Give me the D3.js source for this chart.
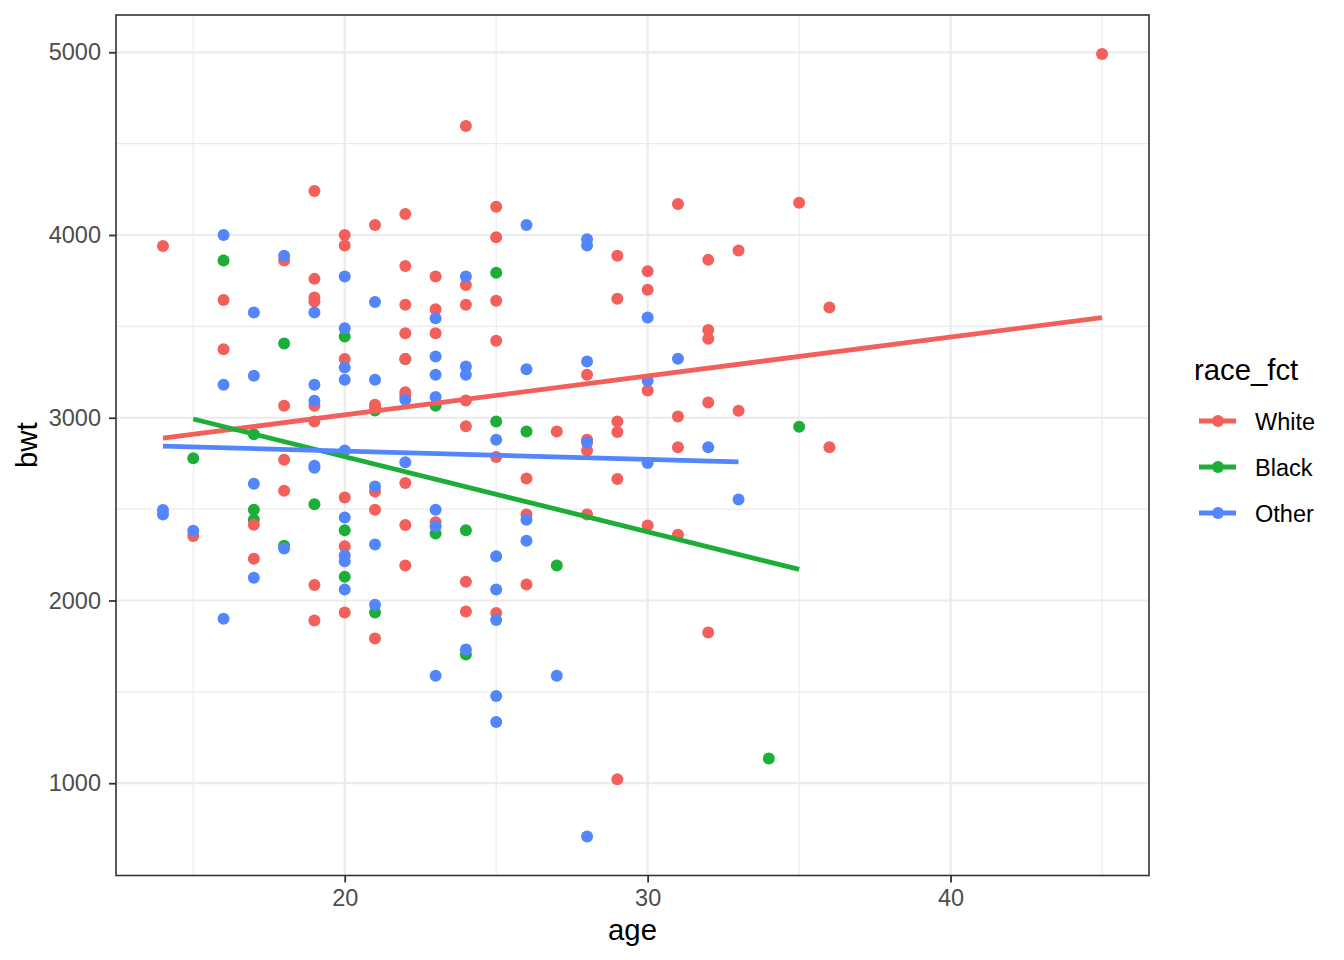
<!DOCTYPE html>
<html>
<head>
<meta charset="utf-8">
<script src="https://cdn.jsdelivr.net/npm/d3@7"></script>
<style>
  body { margin: 0; background: #fff; }
  svg { font-family: "Liberation Sans", Arial, sans-serif; }
</style>
</head>
<body>
<div id="chart"></div>
<script>
// birth weight vs mother's age: [age, bwt]
const white = [
  [14,3940],[15,2353],[16,3645],[16,3375],[17,2415],[17,2229],
  [18,3860],[18,3066],[18,2770],[18,2600],
  [19,4241],[19,3760],[19,3658],[19,3636],[19,3066],[19,2980],[19,2085],[19,1890],
  [20,4000],[20,3942],[20,3321],[20,2563],[20,2297],[20,1934],
  [21,4055],[21,3071],[21,3055],[21,2597],[21,2497],[21,1792],
  [22,4115],[22,3831],[22,3618],[22,3463],[22,3321],[22,3139],[22,3120],[22,2643],[22,2413],[22,2191],
  [23,3773],[23,3594],[23,3463],[23,2428],
  [24,4597],[24,3727],[24,3618],[24,3095],[24,2953],[24,2103],[24,1940],
  [25,4155],[25,3988],[25,3640],[25,3421],[25,2785],[25,1932],
  [26,2667],[26,2470],[26,2087],[27,2925],
  [28,3235],[28,2880],[28,2821],[28,2470],
  [29,3887],[29,3651],[29,2980],[29,2922],[29,2665],[29,1021],
  [30,3802],[30,3701],[30,3149],[30,2411],
  [31,4170],[31,3007],[31,2838],[31,2360],
  [32,3864],[32,3480],[32,3432],[32,3084],[32,1825],
  [33,3915],[33,3038],[35,4177],[36,3603],[36,2838],[45,4990]
];
const black = [
  [15,2778],[16,3860],[17,2910],[17,2497],[17,2442],[18,3406],[18,2300],
  [19,2526],[20,3445],[20,2384],[20,2130],[21,3040],[21,1934],[22,3321],
  [23,3066],[23,2366],[24,2384],[24,1704],[25,3793],[25,2980],[26,2925],
  [27,2191],[34,1135],[35,2951]
];
const other = [
  [14,2495],[14,2470],[15,2381],[16,4000],[16,3180],[16,1900],
  [17,3576],[17,3230],[17,2639],[17,2125],[18,3886],[18,2284],
  [19,3576],[19,3180],[19,3093],[19,2737],[19,2727],
  [20,3773],[20,3490],[20,3275],[20,3208],[20,2821],[20,2454],[20,2246],[20,2215],[20,2060],
  [21,3633],[21,3208],[21,2624],[21,2306],[21,1976],
  [22,3098],[22,2756],
  [23,3545],[23,3335],[23,3235],[23,3113],[23,2497],[23,2406],[23,1588],
  [24,3773],[24,3280],[24,3235],[24,1732],
  [25,2880],[25,2242],[25,2060],[25,1893],[25,1477],[25,1335],
  [26,4055],[26,3266],[26,2442],[26,2327],[27,1588],
  [28,3977],[28,3942],[28,3308],[28,2865],[28,709],
  [30,3548],[30,3202],[30,2752],[31,3323],[32,2838],[33,2553]
];

// lm fit lines as seen in the plot: [age, bwt] at both ends
const fitWhite = [[14,2888],[45,3548]];
const fitBlack = [[15,2993],[35,2170]];
const fitOther = [[14,2845],[33,2758]];

const races = ["White", "Black", "Other"];
const colors = ["#F35F5B", "#1DAE37", "#5385FF"];
const xTicks = [20, 30, 40];
const xMinor = [15, 25, 35, 45];
const yTicks = [1000, 2000, 3000, 4000, 5000];
const yMinor = [1500, 2500, 3500, 4500];

const width = 1344, height = 960;
const panel = { left: 116, right: 1149, top: 15, bottom: 875.5 };

const svg = d3.select("#chart").append("svg")
  .attr("width", width).attr("height", height);

const x = d3.scaleLinear().domain([12.45, 46.55]).range([panel.left, panel.right]);
const y = d3.scaleLinear().domain([494.95, 5204.05]).range([panel.bottom, panel.top]);

// grid
const grid = svg.append("g");
grid.selectAll(".ymin").data(yMinor).join("line")
  .attr("x1", panel.left).attr("x2", panel.right)
  .attr("y1", d => y(d)).attr("y2", d => y(d))
  .attr("stroke", "#EBEBEB").attr("stroke-width", 1.1);
grid.selectAll(".xmin").data(xMinor).join("line")
  .attr("y1", panel.top).attr("y2", panel.bottom)
  .attr("x1", d => x(d)).attr("x2", d => x(d))
  .attr("stroke", "#EBEBEB").attr("stroke-width", 1.1);
grid.selectAll(".ymaj").data(yTicks).join("line")
  .attr("x1", panel.left).attr("x2", panel.right)
  .attr("y1", d => y(d)).attr("y2", d => y(d))
  .attr("stroke", "#EBEBEB").attr("stroke-width", 2.2);
grid.selectAll(".xmaj").data(xTicks).join("line")
  .attr("y1", panel.top).attr("y2", panel.bottom)
  .attr("x1", d => x(d)).attr("x2", d => x(d))
  .attr("stroke", "#EBEBEB").attr("stroke-width", 2.2);

// points, black first so white/other sit on top
const groups = [[black, colors[1]], [white, colors[0]], [other, colors[2]]];
groups.forEach(([pts, col]) => {
  svg.append("g").selectAll("circle").data(pts).join("circle")
    .attr("cx", d => x(d[0])).attr("cy", d => y(d[1]))
    .attr("r", 6).attr("fill", col);
});

// fit lines
const line = d3.line().x(d => x(d[0])).y(d => y(d[1]));
[fitWhite, fitBlack, fitOther].forEach((f, i) => {
  svg.append("path").attr("d", line(f))
    .attr("fill", "none").attr("stroke", colors[i]).attr("stroke-width", 4.8);
});

// panel border
svg.append("rect")
  .attr("x", panel.left).attr("y", panel.top)
  .attr("width", panel.right - panel.left).attr("height", panel.bottom - panel.top)
  .attr("fill", "none").attr("stroke", "#333333").attr("stroke-width", 1.6);

// axes
const xAxis = svg.append("g").attr("transform", `translate(0,${panel.bottom})`)
  .call(d3.axisBottom(x).tickValues(xTicks).tickSize(7).tickPadding(7));
const yAxis = svg.append("g").attr("transform", `translate(${panel.left},0)`)
  .call(d3.axisLeft(y).tickValues(yTicks).tickSize(7).tickPadding(8).tickFormat(d3.format("d")));
[xAxis, yAxis].forEach(a => {
  a.select(".domain").remove();
  a.selectAll(".tick line").attr("stroke", "#333333").attr("stroke-width", 1.8);
  a.selectAll(".tick text").attr("fill", "#4D4D4D").attr("font-size", 23.5)
    .attr("font-family", "Liberation Sans, Arial, sans-serif");
});

svg.append("text").attr("x", (panel.left + panel.right) / 2).attr("y", 940)
  .attr("text-anchor", "middle").attr("font-size", 29.3).text("age");
svg.append("text").attr("transform", `translate(37,${(panel.top + panel.bottom) / 2}) rotate(-90)`)
  .attr("text-anchor", "middle").attr("font-size", 29.3).text("bwt");

// legend
const legend = svg.append("g");
legend.append("text").attr("x", 1194).attr("y", 380).attr("font-size", 29.3).text("race_fct");
races.forEach((r, i) => {
  const cy = 421 + i * 46;
  legend.append("line").attr("x1", 1199).attr("x2", 1236).attr("y1", cy).attr("y2", cy)
    .attr("stroke", colors[i]).attr("stroke-width", 4.8);
  legend.append("circle").attr("cx", 1218).attr("cy", cy).attr("r", 6).attr("fill", colors[i]);
  legend.append("text").attr("x", 1255).attr("y", cy + 8.5).attr("font-size", 23.5).text(r);
});
</script>
</body>
</html>
